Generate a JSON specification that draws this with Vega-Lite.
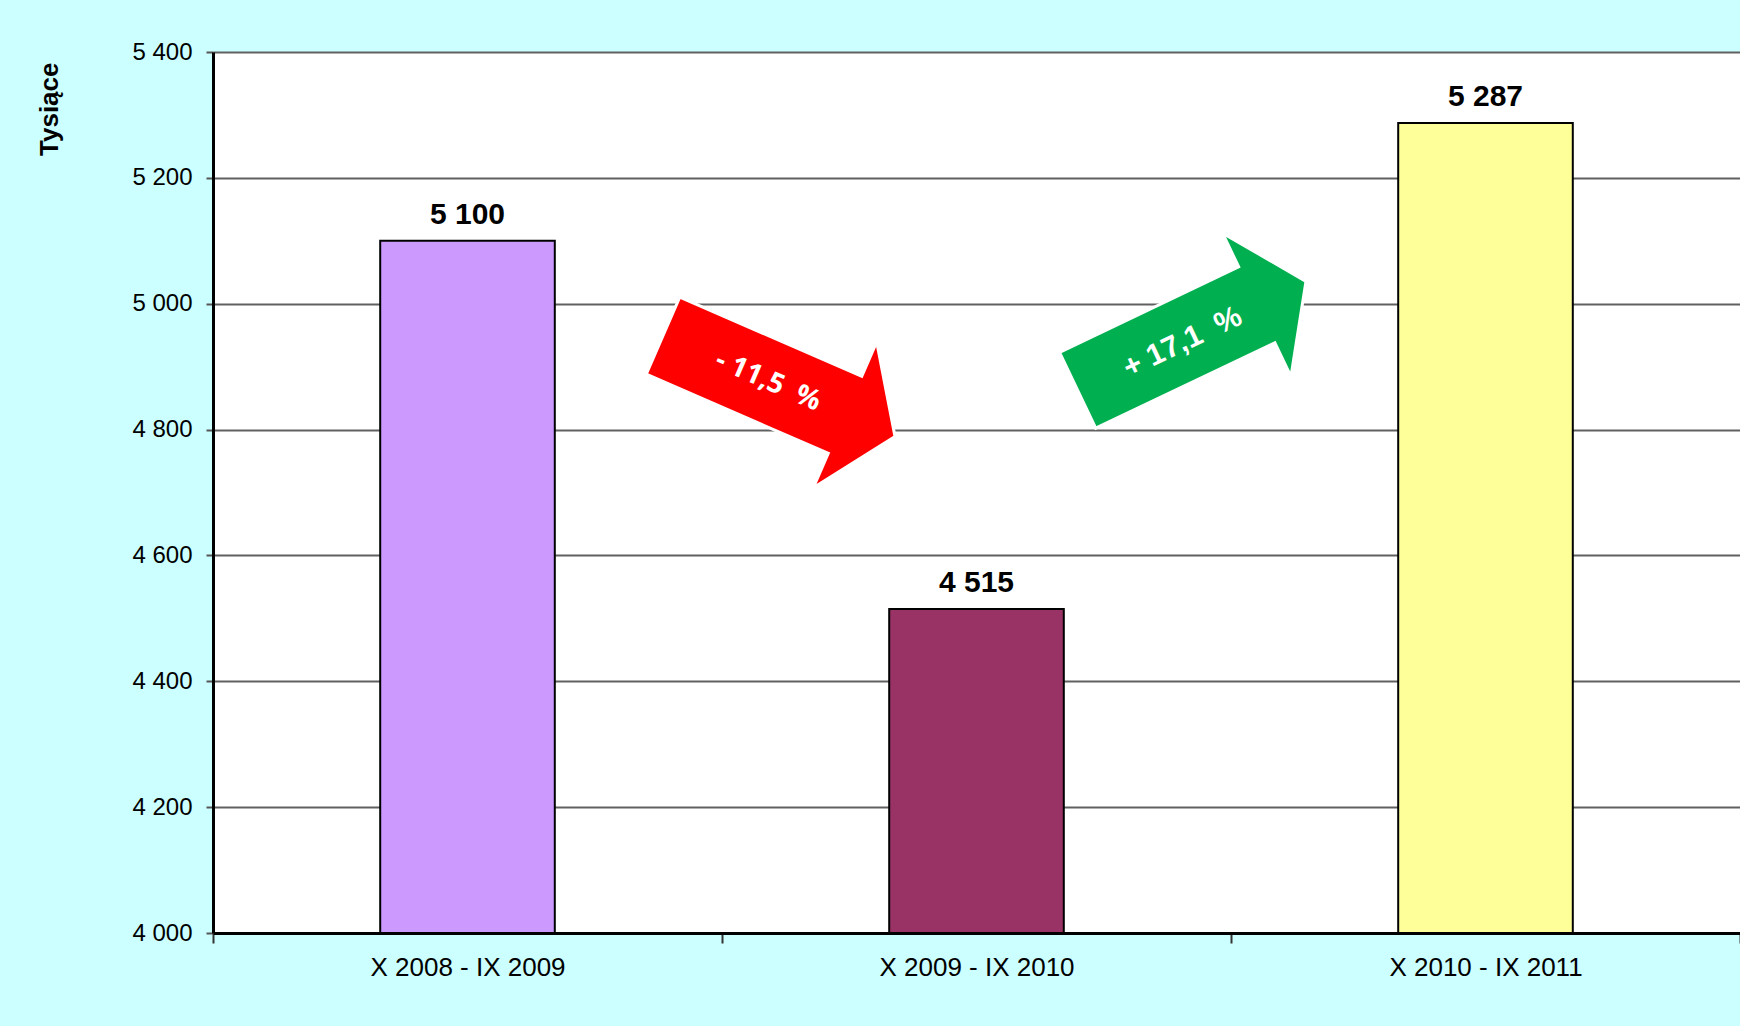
{
  "$schema": "https://vega.github.io/schema/vega-lite/v6.json",
  "width": 1527,
  "height": 881,
  "autosize": {"type": "none"},
  "padding": {"left": 213, "top": 52, "right": 0, "bottom": 93},
  "background": "#CCFFFF",
  "config": {
    "view": {"fill": "white", "stroke": null},
    "font": "Liberation Sans"
  },
  "datasets": {
    "bars": [
      {"okres": "X 2008 - IX 2009", "wartosc": 5100},
      {"okres": "X 2009 - IX 2010", "wartosc": 4515},
      {"okres": "X 2010 - IX 2011", "wartosc": 5287}
    ],
    "arrows": [
      {"zmiana": "- 11,5  %", "pos": 1.112, "v": 4869},
      {"zmiana": "+ 17,1  %", "pos": 1.923, "v": 4949}
    ]
  },
  "layer": [
    {
      "data": {"name": "bars"},
      "layer": [
        {
          "mark": {"type": "bar", "stroke": "black", "strokeWidth": 2, "width": {"band": 0.343}},
          "encoding": {
            "x": {
              "field": "okres", "type": "nominal", "sort": null,
              "scale": {"paddingInner": 0, "paddingOuter": 0},
              "axis": {
                "title": null, "labelAngle": 0, "labelFontSize": 26, "labelColor": "black", "labelLimit": 500,
                "labelPadding": 11, "tickBand": "extent", "tickSize": 10, "tickWidth": 2,
                "tickColor": "#333333", "domainColor": "black", "domainWidth": 3
              }
            },
            "y": {
              "field": "wartosc", "type": "quantitative",
              "scale": {"domain": [4000, 5400], "zero": false, "nice": false},
              "axis": {
                "title": "Tysiące", "titleFontSize": 26, "titleFontWeight": "bold", "titleColor": "black",
                "titleAngle": -90, "titleAlign": "right", "titleBaseline": "middle",
                "titleX": -164, "titleY": 10,
                "values": [4000, 4200, 4400, 4600, 4800, 5000, 5200, 5400],
                "labelExpr": "replace(format(datum.value, ','), ',', ' ')",
                "labelFontSize": 24, "labelColor": "black", "labelPadding": 14,
                "tickSize": 7, "tickWidth": 2, "tickColor": "#555555",
                "domainColor": "black", "domainWidth": 3,
                "grid": true, "gridColor": "#606060", "gridWidth": 2
              }
            },
            "y2": {"datum": 4000},
            "color": {
              "field": "okres", "type": "nominal", "legend": null, "sort": null,
              "scale": {"range": ["#CC99FF", "#993366", "#FFFF99"]}
            }
          }
        },
        {
          "transform": [
            {"calculate": "replace(format(datum.wartosc, ',d'), ',', ' ')", "as": "lbl"}
          ],
          "mark": {"type": "text", "fontSize": 30, "fontWeight": "bold", "baseline": "alphabetic", "dy": -17, "color": "black"},
          "encoding": {
            "x": {"field": "okres", "type": "nominal", "sort": null},
            "y": {"field": "wartosc", "type": "quantitative"},
            "text": {"field": "lbl"}
          }
        }
      ]
    },
    {
      "data": {"name": "arrows"},
      "transform": [
        {"calculate": "replace(datum.zmiana, '  ', '\u00a0\u00a0')", "as": "txt"}
      ],
      "layer": [
        {
          "transform": [{"filter": "datum.pos < 1.5"}],
          "mark": {
            "type": "point", "filled": true, "color": "#FF0000", "opacity": 1,
            "shape": "M -1 -0.332 L 0.569 -0.332 L 0.569 -0.628 L 1 0 L 0.569 0.628 L 0.569 0.332 L -1 0.332 Z",
            "size": 64009, "angle": 23.5, "stroke": "white", "strokeWidth": 3
          },
          "encoding": {
            "x": {"field": "pos", "type": "quantitative", "scale": {"domain": [0, 3]}, "axis": null},
            "y": {"field": "v", "type": "quantitative"}
          }
        },
        {
          "transform": [{"filter": "datum.pos < 1.5"}],
          "mark": {"type": "text", "angle": 23.5, "dx": -12, "fontSize": 28, "fontWeight": "bold", "font": "Open Sans", "color": "white"},
          "encoding": {
            "x": {"field": "pos", "type": "quantitative", "scale": {"domain": [0, 3]}, "axis": null},
            "y": {"field": "v", "type": "quantitative"},
            "text": {"field": "txt"}
          }
        },
        {
          "transform": [{"filter": "datum.pos > 1.5"}],
          "mark": {
            "type": "point", "filled": true, "color": "#00B050", "opacity": 1,
            "shape": "M -1 -0.332 L 0.569 -0.332 L 0.569 -0.628 L 1 0 L 0.569 0.628 L 0.569 0.332 L -1 0.332 Z",
            "size": 64009, "angle": -25.5, "stroke": "white", "strokeWidth": 3
          },
          "encoding": {
            "x": {"field": "pos", "type": "quantitative", "scale": {"domain": [0, 3]}, "axis": null},
            "y": {"field": "v", "type": "quantitative"}
          }
        },
        {
          "transform": [{"filter": "datum.pos > 1.5"}],
          "mark": {"type": "text", "angle": -25.5, "dx": -11, "dy": 2, "fontSize": 30, "fontWeight": "bold", "font": "Liberation Sans", "color": "white"},
          "encoding": {
            "x": {"field": "pos", "type": "quantitative", "scale": {"domain": [0, 3]}, "axis": null},
            "y": {"field": "v", "type": "quantitative"},
            "text": {"field": "txt"}
          }
        }
      ]
    }
  ],
  "resolve": {"scale": {"x": "independent", "color": "independent"}}
}
